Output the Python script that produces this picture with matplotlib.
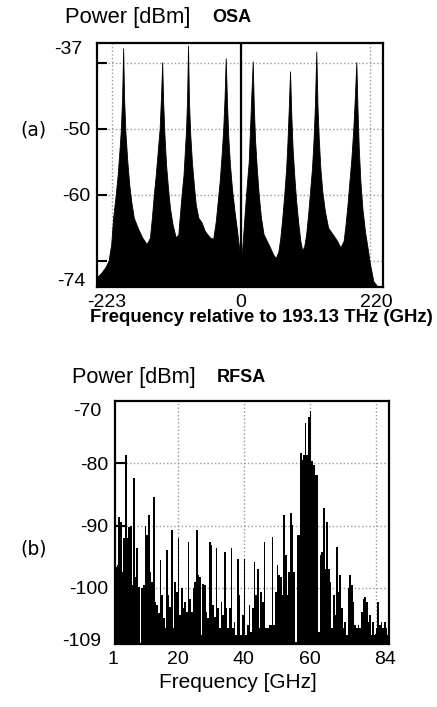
import matplotlib
matplotlib.use("Agg")
import matplotlib.pyplot as plt
from matplotlib.transforms import ScaledTranslation

plt.rcParams['font.family'] = ['Liberation Sans', 'DejaVu Sans']

#===============================================================================
# DATA
#===============================================================================
# (a) OSA trace: envelope points, frequency offset in GHz and power in dBm
osa_freq = [-223, -216, -210, -205, -201, -198, -194, -191, -188, -186, -184, -182.5,
            -181, -179, -176, -173, -170, -166, -160, -153, -146, -141,
            -138, -135, -132, -129, -126, -124, -122, -120.5, -118.5, -116, -113,
            -110, -106, -101, -97,
            -95, -92, -89, -87, -85, -83.5, -82, -80.5, -78.5, -76, -73, -70, -66,
            -61, -56, -48, -43,
            -39, -36, -33, -30, -27.5, -25.5, -23.6, -21.5, -19.5, -17, -14, -10,
            -6, -3, -1, 1.5,
            3.5, 6, 9, 12, 14, 16, 18.2, 20, 22, 24.5, 27.5, 31, 35, 40, 45, 50,
            54, 58,
            61, 64, 67, 70, 72, 74, 76, 78, 80, 82.5, 85.5, 89, 92, 95, 98,
            101, 104, 107, 110, 112.5, 114.5, 116.7, 118.5, 120.5, 123, 126, 130,
            135, 142, 149, 154, 159,
            162, 165, 168, 171, 174, 176.5, 178.7, 180.5, 182.5, 185, 188, 192,
            196, 200, 205, 212, 220]
osa_power = [-72.5, -71.8, -71.0, -70.0, -67.5, -63.5, -60.0, -57.0, -53.0, -50.0, -45.0, -37.8,
             -45.5, -50.5, -55.0, -58.5, -61.0, -63.5, -65.0, -66.5, -67.5, -66.5,
             -63.5, -60.0, -57.0, -53.5, -50.0, -45.5, -39.9, -46.0, -51.0, -55.5, -59.0,
             -62.0, -64.5, -66.5, -66.0,
             -63.5, -60.0, -57.0, -53.5, -50.0, -45.5, -37.4, -46.0, -51.0, -55.0, -58.5, -61.5, -63.5,
             -64.2, -65.5, -66.5, -66.7,
             -64.0, -61.0, -58.0, -54.0, -50.0, -45.5, -39.3, -46.5, -51.5, -55.5, -59.0, -62.5,
             -65.5, -68.0, -69.0, -68.8,
             -66.0, -62.5, -58.5, -55.0, -50.0, -45.0, -39.8, -47.0, -52.0, -56.0, -60.0, -63.5, -66.0, -67.0, -68.0, -69.1,
             -69.6, -68.6,
             -66.5, -63.5, -60.0, -56.0, -52.0, -47.0, -41.3, -48.0, -53.0, -57.0, -61.0, -64.5, -67.0, -68.5, -67.8,
             -66.0, -63.0, -59.5, -56.0, -51.5, -46.5, -38.3, -46.5, -51.5, -56.0, -59.5, -62.5,
             -65.0, -66.0, -67.0, -68.0, -67.0,
             -64.5, -61.5, -58.0, -54.5, -50.0, -45.0, -39.9, -47.0, -53.0, -58.0, -62.0, -65.5,
             -68.0, -70.6, -73.1, -74.0, -74.0]
osa_xticks = [-223, 0, 220]
osa_xgrid = [-200, 0, 200]
osa_yticks = [-37, -50, -60, -74]
osa_ygrid = [-40, -50, -60, -70]

# (b) RFSA trace: one value per 0.5 GHz bin starting at 1 GHz
rf_start = 1.0
rf_step = 0.5
rf_power = [
    -96.6, -96.3, -88.6, -89.4, -97.4, -92.0, -78.7, -92.0, -90.2, -90.0,
    -99.5, -82.4, -98.2, -93.6, -99.8, -109.0, -100.0, -99.5, -90.0, -91.5,
    -88.3, -97.4, -99.0, -85.4, -102.2, -102.7, -104.1, -95.5, -101.1, -104.9,
    -106.5, -93.9, -101.1, -103.0, -90.7, -106.5, -99.0, -100.6, -92.0, -104.3,
    -100.0, -103.3,
    -102.2, -103.8, -92.6, -101.7, -103.8, -100.0, -99.0, -90.7, -97.9, -98.2,
    -107.6, -99.3, -99.5, -103.8, -104.9, -92.6, -93.1, -102.7, -104.6, -93.6,
    -103.3, -106.5, -102.2, -104.3, -94.2, -103.3, -106.5, -103.3, -93.6, -106.5,
    -105.4, -107.6, -95.3, -101.1, -107.6, -104.3, -95.3, -107.6, -106.0, -102.7,
    -107.0, -103.3, -95.8, -101.1, -96.9, -106.5, -100.6, -102.2, -92.6, -106.5,
    -106.5, -106.0, -106.0, -91.8, -106.0, -100.6, -96.3, -97.9, -98.2, -101.1,
    -88.3, -94.7, -101.1, -97.4, -88.0, -89.9, -97.4, -108.6, -91.5, -91.5,
    -78.4, -79.5, -78.7, -73.6, -78.7, -72.5, -71.6, -79.7, -80.3, -81.9,
    -81.9,
    -107.0, -94.7, -94.2, -87.2, -96.9, -89.4, -96.9, -99.0, -106.5, -101.1,
    -104.3, -93.4, -100.6, -97.9, -103.3, -106.5, -105.4, -107.6, -100.0, -97.9,
    -99.5, -102.2, -106.0, -106.5, -106.0, -106.5, -103.8, -101.7, -101.4, -102.2,
    -105.4, -104.3, -107.6, -105.4, -107.6, -106.5, -102.2, -106.0, -105.4, -106.5,
    -105.4, -106.5, -107.6]
rf_freq = [rf_start + rf_step * k for k in range(len(rf_power))]
rf_xticks = [1, 20, 40, 60, 84]
rf_xgrid = [20, 40, 60, 80]
rf_yticks = [-70, -80, -90, -100, -109]
rf_ygrid = [-80, -90, -100]

GRID = dict(linestyle=':', color='#999999', linewidth=1.0)


def shift(label, fig, dx, dy):
    # move a tick label by dx, dy pixels
    label.set_transform(label.get_transform() +
                        ScaledTranslation(dx / 100, dy / 100, fig.dpi_scale_trans))


def style_axes(ax, xgrid, xticks, ygrid, yticks):
    ax.set_axisbelow(True)
    ax.xaxis.remove_overlapping_locs = False
    ax.yaxis.remove_overlapping_locs = False
    ax.set_xticks(xgrid)
    ax.set_xticklabels([])
    ax.set_yticks(ygrid)
    ax.set_yticklabels([])
    ax.set_xticks(xticks, labels=[str(v) for v in xticks], minor=True)
    ax.set_yticks(yticks, labels=[str(v) for v in yticks], minor=True)
    ax.tick_params(which='major', direction='in', length=7, width=1.5)
    ax.tick_params(which='minor', length=0, labelsize=14, pad=5)
    ax.grid(True, which='major', **GRID)
    for s in ax.spines.values():
        s.set_linewidth(1.6)


fig = plt.figure(figsize=(4.37, 7.07), dpi=100)

# (a) OSA
ax1 = fig.add_axes([97 / 437, 1 - 287 / 707, 286 / 437, 244 / 707])
ax1.fill_between(osa_freq, osa_power, -74, color='black', linewidth=0.6,
                 edgecolor='black')
ax1.axvline(0, color='black', linewidth=1.6)
ax1.set_xlim(-223, 220)
ax1.set_ylim(-74, -37)
style_axes(ax1, osa_xgrid, osa_xticks, osa_ygrid, osa_yticks)
xl = ax1.get_xticklabels(minor=True)
shift(xl[0], fig, 10, 0)
shift(xl[-1], fig, -7, 0)
yl = ax1.get_yticklabels(minor=True)
shift(yl[0], fig, -8, -5)
shift(yl[-1], fig, -5, 8)

# (b) RFSA
ax2 = fig.add_axes([115 / 437, 1 - 644 / 707, 274 / 437, 243 / 707])
ax2.bar(rf_freq, [p + 109 for p in rf_power], width=rf_step, bottom=-109,
        align='edge', color='black', linewidth=0)
ax2.set_xlim(1, 84)
ax2.set_ylim(-109, -70)
style_axes(ax2, rf_xgrid, rf_xticks, rf_ygrid, rf_yticks)
xl = ax2.get_xticklabels(minor=True)
shift(xl[0], fig, -2, 0)
shift(xl[-1], fig, -4, 0)
yl = ax2.get_yticklabels(minor=True)
shift(yl[0], fig, -7, -9)
shift(yl[-1], fig, -7, 5)

# texts
fig.text(65 / 437, 1 - 17 / 707, 'Power [dBm]', fontsize=15.8, va='center')
fig.text(212 / 437, 1 - 17 / 707, 'OSA', fontsize=13, fontweight='bold', va='center')
fig.text(261 / 437, 1 - 318 / 707, 'Frequency relative to 193.13 THz (GHz)',
         fontsize=13.4, fontweight='bold', ha='center', va='center')
fig.text(20 / 437, 1 - 130 / 707, '(a)', fontsize=13.5, family='DejaVu Sans', va='center')

fig.text(72 / 437, 1 - 378 / 707, 'Power [dBm]', fontsize=15.6, va='center')
fig.text(217 / 437, 1 - 378 / 707, 'RFSA', fontsize=13, fontweight='bold', va='center')
fig.text(238 / 437, 1 - 683 / 707, 'Frequency [GHz]', fontsize=15, ha='center', va='center')
fig.text(20 / 437, 1 - 549 / 707, '(b)', fontsize=13.5, family='DejaVu Sans', va='center')

fig.savefig('out.png', dpi=100)
